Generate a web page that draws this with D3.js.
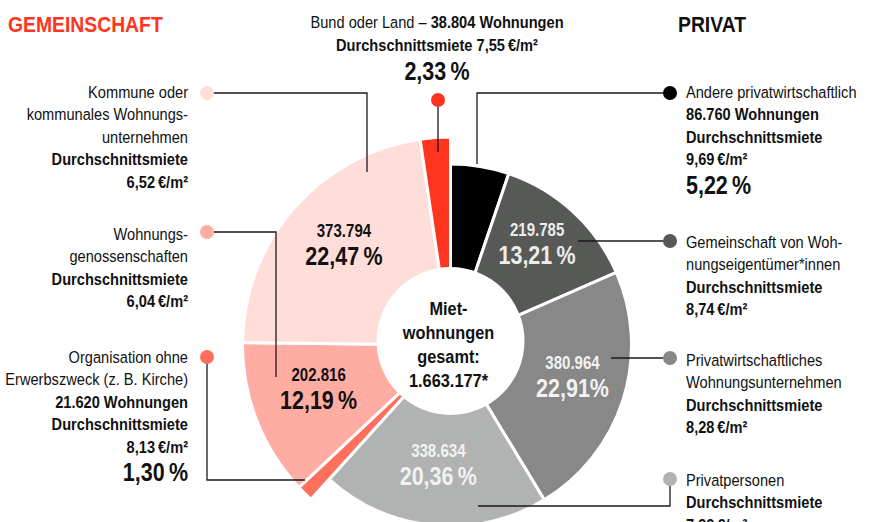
<!DOCTYPE html>
<html>
<head>
<meta charset="utf-8">
<script src="https://cdn.jsdelivr.net/npm/d3@7"></script>
<style>
  body { margin: 0; background: #fff; }
  svg { display: block; font-family: "Liberation Sans", Arial, sans-serif; }
</style>
</head>
<body>
<div id="chart"></div>
<script>
/* Mietwohnungen nach Eigentümer – Ringdiagramm */

const eigentuemer = ["Andere privatwirtschaftlich", "Gemeinschaft von Wohnungseigentümer*innen",
  "Privatwirtschaftliches Wohnungsunternehmen", "Privatpersonen",
  "Organisation ohne Erwerbszweck (z. B. Kirche)", "Wohnungsgenossenschaften",
  "Kommune oder kommunales Wohnungsunternehmen", "Bund oder Land"];
const gruppe = ["privat", "privat", "privat", "privat", "gemein", "gemein", "gemein", "gemein"];
const wohnungen = [86760, 219785, 380964, 338634, 21620, 202816, 373794, 38804];
const anteil = ["5,22\u2009%", "13,21\u2009%", "22,91%", "20,36\u2009%", "1,30\u2009%", "12,19\u2009%", "22,47\u2009%", "2,33\u2009%"];
const miete = ["9,69", "8,74", "8,28", "7,92", "8,13", "6,04", "6,52", "7,55"];
// Umbruch der Namen wie in der Vorlage
const nameZeilen = [
  ["Andere privatwirtschaftlich"],
  ["Gemeinschaft von Woh-", "nungseigentümer*innen"],
  ["Privatwirtschaftliches", "Wohnungsunternehmen"],
  ["Privatpersonen"],
  ["Organisation ohne", "Erwerbszweck (z. B. Kirche)"],
  ["Wohnungs-", "genossenschaften"],
  ["Kommune oder", "kommunales Wohnungs-", "unternehmen"],
  ["Bund oder Land"]
];
const gesamtZeilen = ["Miet-", "wohnungen", "gesamt:", "1.663.177*"];

const width = 871, height = 522;
const cx = 450.5, cy = 345;
const sq = 0.86; // schmale Schrift nachbilden

const colors = ["#000000", "#575957", "#878887", "#b1b3b3", "#ff6f5e", "#ffada2", "#ffdeda", "#ff3520"];
const labelFill = ["#fff", "#ececec", "#f2f2f2", "#f2f2f2", "#111", "#111", "#111", "#111"];

const de = d3.formatLocale({decimal: ",", thousands: ".", grouping: [3], currency: ["", " €"]});
const fmt = de.format(",d");
const total = d3.sum(wohnungen);

const data = eigentuemer.map((name, i) => ({
  name, i, gruppe: gruppe[i], value: wohnungen[i], anteil: anteil[i], miete: miete[i]
}));

const radius = d3.scaleOrdinal().domain(["privat", "gemein"]).range([181, 208]);

const svg = d3.select("#chart")
  .append("svg")
  .attr("width", width)
  .attr("height", height)
  .attr("viewBox", [0, 0, width, height]);

// Text in schmal gestauchter Gruppe
function narrow(parent, x, y) {
  return parent.append("g")
    .attr("transform", `translate(${x},${y}) scale(${sq},1)`)
    .append("text");
}

const pie = d3.pie().sort(null).value(d => d.value);
const arcs = pie(data);

const arc = d3.arc()
  .innerRadius(0)
  .outerRadius(d => radius(d.data.gruppe));

const labelArc = d3.arc()
  .innerRadius(75)
  .outerRadius(d => radius(d.data.gruppe));

const g = svg.append("g").attr("transform", `translate(${cx},${cy})`);

g.selectAll("path.slice")
  .data(arcs)
  .join("path")
  .attr("class", "slice")
  .attr("d", arc)
  .attr("fill", d => colors[d.index])
  .attr("stroke", "#fff")
  .attr("stroke-width", 3)
  .attr("stroke-linejoin", "miter");

// weißer Innenkreis
svg.append("circle")
  .attr("cx", cx)
  .attr("cy", cy - 4)
  .attr("r", 74)
  .attr("fill", "#fff");

const mitte = narrow(svg, cx - 2, cy - 30)
  .attr("text-anchor", "middle")
  .attr("font-weight", "bold")
  .attr("font-size", 19)
  .attr("fill", "#111");
mitte.selectAll("tspan")
  .data(gesamtZeilen)
  .join("tspan")
  .attr("x", 0)
  .attr("y", (d, i) => i * 24)
  .text(d => d);

// Beschriftung in den großen Segmenten
const big = arcs.filter(d => d.data.value / total > 0.06);

big.forEach(d => {
  const [lx, ly] = labelArc.centroid(d);
  const t = narrow(g, lx, ly)
    .attr("text-anchor", "middle")
    .attr("font-weight", "bold")
    .attr("fill", labelFill[d.index]);
  t.append("tspan").attr("x", 0).attr("y", -15).attr("font-size", 17.5).text(fmt(d.data.value));
  t.append("tspan").attr("x", 0).attr("y", 13).attr("font-size", 25).text(d.data.anteil);
});

// Hinweislinien und Legendentexte
const callouts = [
  {dot: [670, 93],  x: 686, y: 98,  anchor: "start", path: [[670, 93], [477, 93], [477, 164]]},
  {dot: [670, 241], x: 686, y: 248, anchor: "start", path: [[670, 241], [578, 241]]},
  {dot: [670, 358], x: 686, y: 366, anchor: "start", path: [[670, 358], [611, 358]]},
  {dot: [670, 479], x: 686, y: 486, anchor: "start", path: [[670, 479], [670, 506], [478, 506]]},
  {dot: [207, 357], x: 188, y: 363, anchor: "end",   path: [[207, 357], [207, 480], [305, 480]]},
  {dot: [207, 232], x: 188, y: 240, anchor: "end",   path: [[207, 232], [276, 232], [276, 377]]},
  {dot: [207, 93],  x: 188, y: 98,  anchor: "end",   path: [[207, 93], [367, 93], [367, 172]]},
  {dot: [438, 100], x: 437, y: 28,  anchor: "middle", path: [[438, 100], [438, 152]]}
];

const line = d3.line();
const lineH = 22.4;

data.forEach((d, i) => {
  const c = callouts[i];
  svg.append("path")
    .attr("d", line(c.path))
    .attr("fill", "none")
    .attr("stroke", "#1a1a1a")
    .attr("stroke-width", 1.3);
  svg.append("circle")
    .attr("cx", c.dot[0])
    .attr("cy", c.dot[1])
    .attr("r", 7)
    .attr("fill", colors[i]);

  const klein = d.value / total < 0.06;
  const t = narrow(svg, c.x, c.y)
    .attr("text-anchor", c.anchor)
    .attr("font-size", 17)
    .attr("fill", "#111");

  if (i === 7) {
    // Bund oder Land: Name und Anzahl in einer Zeile
    const l1 = t.append("tspan").attr("x", 0).attr("y", 0);
    l1.append("tspan").text(nameZeilen[i][0] + " – ");
    l1.append("tspan").attr("font-weight", "bold").text(fmt(d.value) + " Wohnungen");
    t.append("tspan").attr("x", 0).attr("y", 23.5)
      .attr("font-weight", "bold").text(`Durchschnittsmiete ${d.miete}\u2009€/m²`);
    t.append("tspan").attr("x", 0).attr("y", 52)
      .attr("font-weight", "bold").attr("font-size", 25).text(d.anteil);
    return;
  }

  const rows = nameZeilen[i].map(s => ({s, b: false}));
  if (klein) rows.push({s: fmt(d.value) + " Wohnungen", b: true});
  rows.push({s: "Durchschnittsmiete", b: true});
  rows.push({s: d.miete + "\u2009€/m²", b: true});

  rows.forEach((r, k) => {
    t.append("tspan")
      .attr("x", 0)
      .attr("y", k * lineH)
      .attr("font-weight", r.b ? "bold" : "normal")
      .text(r.s);
  });
  if (klein) {
    t.append("tspan")
      .attr("x", 0)
      .attr("y", (rows.length - 1) * lineH + 28.5)
      .attr("font-weight", "bold")
      .attr("font-size", 25)
      .text(d.anteil);
  }
});

// Gruppentitel
narrow(svg, 8, 32)
  .attr("font-size", 22.5).attr("font-weight", "bold")
  .attr("fill", colors[7])
  .text("GEMEINSCHAFT");

narrow(svg, 678, 32)
  .attr("font-size", 22.5).attr("font-weight", "bold")
  .attr("fill", "#111")
  .text("PRIVAT");
</script>
</body>
</html>
